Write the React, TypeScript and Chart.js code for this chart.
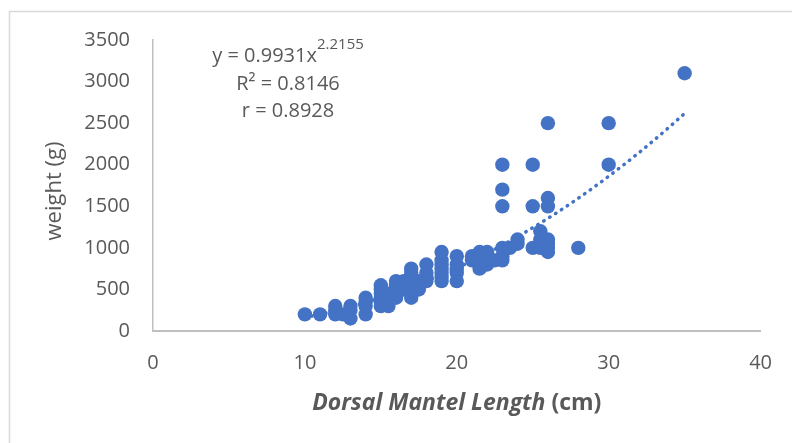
import React, { useEffect, useRef } from "react";
import { Chart, registerables } from "chart.js";

Chart.register(...registerables);

// Dorsal mantel length (cm) and weight (g)
const lengthCm = [
  10, 11, 12, 12, 12, 12.5, 13, 13, 13,
  14, 14, 14, 14,
  15, 15, 15, 15, 15, 15, 15.5, 15.5, 15.5,
  16, 16, 16, 16, 16, 16.5, 16.5,
  17, 17, 17, 17, 17, 17, 17, 17.5, 17.5,
  18, 18, 18, 18,
  19, 19, 19, 19, 19, 19, 19,
  20, 20, 20, 20, 20,
  21, 21, 21.5, 21.5, 21.5, 21.5, 22, 22, 22, 22.5,
  23, 23, 23, 23, 23, 23, 23.5, 24, 24,
  25, 25, 25, 25.5, 25.5, 25.5,
  26, 26, 26, 26, 26, 26, 26,
  28, 30, 30, 35,
];
const weightG = [
  200, 200, 200, 300, 250, 200, 150, 250, 300,
  200, 300, 350, 400,
  300, 350, 400, 450, 500, 550, 300, 400, 450,
  400, 450, 500, 550, 600, 500, 600,
  400, 500, 550, 600, 650, 700, 750, 500, 600,
  600, 650, 700, 800,
  600, 650, 700, 750, 800, 850, 950,
  600, 700, 750, 800, 900,
  850, 900, 750, 800, 900, 950, 800, 900, 950, 850,
  850, 900, 1000, 1500, 1700, 2000, 1000, 1050, 1100,
  1000, 1500, 2000, 1000, 1100, 1200,
  950, 1000, 1050, 1100, 1500, 1600, 2500,
  1000, 2000, 2500, 3100,
];

// Power trendline shown on the chart: y = a * x^b
const trendA = 0.9931;
const trendB = 2.2155;
const trendFrom = 10;
const trendTo = 35;

const equationMain = "y = 0.9931x";
const equationExp = "2.2155";
const rSquaredText = "R² = 0.8146";
const rText = "r = 0.8928";
const xTitleItalic = "Dorsal Mantel Length";
const xTitleRest = " (cm)";
const yTitle = "weight (g)";

const xMin = 0, xMax = 40, xStep = 10;
const yMin = 0, yMax = 3500, yStep = 500;

const BLUE = "#4472C4";
const TEXT = "#595959";
const FONT = '"Open Sans", "DejaVu Sans", sans-serif';

export default function App() {
  const ref = useRef<HTMLCanvasElement | null>(null);

  useEffect(() => {
    document.body.style.margin = "0";
    const canvas = ref.current;
    if (!canvas) return;

    const points = lengthCm.map((x, i) => ({ x, y: weightG[i] }));
    const trend: { x: number; y: number }[] = [];
    for (let x = trendFrom; x <= trendTo + 1e-9; x += 0.25) {
      trend.push({ x, y: trendA * Math.pow(x, trendB) });
    }

    const textPlugin = {
      id: "texts",
      beforeDraw(chart: any) {
        const ctx = chart.ctx;
        ctx.save();
        ctx.fillStyle = "#ffffff";
        ctx.fillRect(0, 0, chart.width, chart.height);
        ctx.strokeStyle = "#d9d9d9";
        ctx.lineWidth = 1.5;
        ctx.strokeRect(9.5, 11.5, chart.width + 20, chart.height + 20);
        ctx.restore();
      },
      afterDraw(chart: any) {
        const ctx = chart.ctx;
        const { left, right } = chart.chartArea;
        ctx.save();
        ctx.fillStyle = TEXT;

        // y title
        ctx.save();
        ctx.translate(55, 191);
        ctx.rotate(-Math.PI / 2);
        ctx.font = `22px ${FONT}`;
        ctx.textAlign = "center";
        ctx.textBaseline = "middle";
        ctx.fillText(yTitle, 0, 0);
        ctx.restore();

        // x title (mixed style)
        const f1 = `italic bold 23px ${FONT}`;
        const f2 = `bold 23px ${FONT}`;
        ctx.textBaseline = "alphabetic";
        ctx.textAlign = "left";
        ctx.font = f1;
        const w1 = ctx.measureText(xTitleItalic).width;
        ctx.font = f2;
        const w2 = ctx.measureText(xTitleRest).width;
        const cx = (left + right) / 2;
        const sx = cx - (w1 + w2) / 2;
        ctx.font = f1;
        ctx.fillText(xTitleItalic, sx, 410);
        ctx.font = f2;
        ctx.fillText(xTitleRest, sx + w1, 410);

        // equation block
        const acx = 288;
        const mainFont = `20px ${FONT}`;
        const supFont = `15px ${FONT}`;
        ctx.font = mainFont;
        const wm = ctx.measureText(equationMain).width;
        ctx.font = supFont;
        const ws = ctx.measureText(equationExp).width;
        const ex = acx - (wm + ws) / 2;
        ctx.font = mainFont;
        ctx.fillText(equationMain, ex, 62);
        ctx.font = supFont;
        ctx.fillText(equationExp, ex + wm, 49);
        ctx.font = mainFont;
        ctx.textAlign = "center";
        ctx.fillText(rSquaredText, acx, 90);
        ctx.fillText(rText, acx, 117);
        ctx.restore();
      },
    };

    const chart = new Chart(canvas, {
      type: "scatter",
      data: {
        datasets: [
          {
            label: "trend",
            type: "line",
            data: trend,
            borderColor: BLUE,
            borderWidth: 3.5,
            borderDash: [0.5, 6.5],
            borderCapStyle: "round",
            pointRadius: 0,
            fill: false,
            tension: 0,
            order: 0,
          } as any,
          {
            label: "weight",
            data: points,
            backgroundColor: BLUE,
            borderColor: BLUE,
            borderWidth: 0,
            pointRadius: 7.2,
            pointHoverRadius: 7.2,
            order: 1,
          },
        ],
      },
      options: {
        animation: false,
        responsive: false,
        maintainAspectRatio: false,
        events: [],
        layout: { padding: { left: 0, top: 40, right: 29, bottom: 0 } },
        plugins: {
          legend: { display: false },
          tooltip: { enabled: false },
          title: { display: false },
        },
        scales: {
          x: {
            type: "linear",
            min: xMin,
            max: xMax,
            grid: { display: false, drawTicks: false },
            border: { display: true, color: "#bfbfbf", width: 2 },
            ticks: {
              stepSize: xStep,
              padding: 20,
              color: TEXT,
              font: { family: FONT, size: 20 },
              callback: (v: any) => String(v),
            },
            afterFit(scale: any) {
              scale.height = 443 - 331;
            },
          },
          y: {
            type: "linear",
            min: yMin,
            max: yMax,
            grid: { display: false, drawTicks: false },
            border: { display: true, color: "#bfbfbf", width: 1.5 },
            ticks: {
              stepSize: yStep,
              padding: 23,
              color: TEXT,
              font: { family: FONT, size: 20 },
              callback: (v: any) => String(v),
            },
            afterFit(scale: any) {
              scale.width = 153;
            },
          },
        },
      } as any,
      plugins: [textPlugin],
    });

    return () => chart.destroy();
  }, []);

  return (
    <div style={{ width: 792, height: 443 }}>
      <canvas ref={ref} width={792} height={443} style={{ display: "block" }} />
    </div>
  );
}
